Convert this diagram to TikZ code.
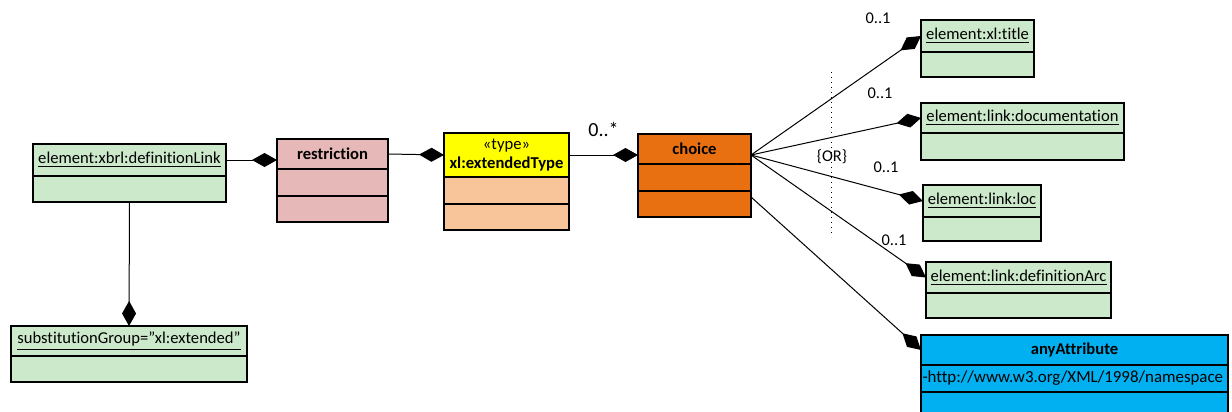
\documentclass[tikz,border=0pt]{standalone}
\usepackage{fontspec}
\setmainfont{Carlito}[Ligatures=NoCommon]
\usepackage{tikz}
\usetikzlibrary{arrows.meta,positioning,calc}
\definecolor{klgruen}{RGB}{205,233,203}
\definecolor{klrosa}{RGB}{230,184,183}
\definecolor{klgelb}{RGB}{255,255,0}
\definecolor{klpfirsich}{RGB}{248,196,154}
\definecolor{klorange}{RGB}{233,112,16}
\definecolor{klblau}{RGB}{0,176,240}
\tikzset{>={Diamond[length=12.5pt,width=7pt]}}
\tikzset{kopf/.style={draw, line width=0.8pt, inner sep=0pt, outer sep=0pt, font=\fontsize{8.3}{9.3}\selectfont},
	fach/.style={kopf, minimum height=13pt},
	mult/.style={font=\fontsize{8.2}{9}\selectfont, inner sep=0pt}}

\begin{document}
\begin{tikzpicture}[x=0.5pt, y=-0.5pt, line width=0.5pt]

	\useasboundingbox (0,0) rectangle (1232,412);

	% linke Seite
	\node[kopf, fill=klgruen, anchor=north west, minimum width=96.5pt, minimum height=16pt] (dl) at (33,144) {\underline{element:xbrl:definitionLink}};
	\node[fach, fill=klgruen, minimum width=96.5pt, below=0pt of dl] (dl1) {};

	\node[kopf, fill=klgruen, anchor=north west, minimum width=118pt, minimum height=15pt] (sg) at (11,326) {\underline{substitutionGroup=\symbol{34}xl:extended\symbol{34}}};
	\node[fach, fill=klgruen, minimum width=118pt, below=0pt of sg] (sg1) {};

	\node[kopf, fill=klrosa, anchor=north west, minimum width=55.5pt, minimum height=15pt] (restr) at (277,139) {\textbf{restriction}};
	\node[fach, fill=klrosa, minimum width=55.5pt, minimum height=13.5pt, below=0pt of restr] (restr1) {};
	\node[fach, fill=klrosa, minimum width=55.5pt, below=0pt of restr1] (restr2) {};

	\node[kopf, fill=klgelb, anchor=north west, minimum width=62.5pt, minimum height=22pt, align=center] (ext) at (444,133) {«type»\\\textbf{xl:extendedType}};
	\node[fach, fill=klpfirsich, minimum width=62.5pt, minimum height=13.5pt, below=0pt of ext] (ext1) {};
	\node[fach, fill=klpfirsich, minimum width=62.5pt, below=0pt of ext1] (ext2) {};

	\node[kopf, fill=klorange, anchor=north west, minimum width=56.5pt, minimum height=15pt] (ch) at (638,134) {\textbf{choice}};
	\node[fach, fill=klorange, minimum width=56.5pt, minimum height=13.5pt, below=0pt of ch] (ch1) {};
	\node[fach, fill=klorange, minimum width=56.5pt, below=0pt of ch1] (ch2) {};

	% rechte Seite
	\node[kopf, fill=klgruen, anchor=north west, minimum width=56.5pt, minimum height=16pt] (ti) at (921,20) {\underline{element:xl:title}};
	\node[fach, fill=klgruen, minimum width=56.5pt, minimum height=12.5pt, below=0pt of ti] (ti1) {};

	\node[kopf, fill=klgruen, anchor=north west, minimum width=101.5pt, minimum height=15pt] (doc) at (921,103) {\underline{element:link:documentation}};
	\node[fach, fill=klgruen, minimum width=101.5pt, minimum height=13.5pt, below=0pt of doc] (doc1) {};

	\node[kopf, fill=klgruen, anchor=north west, minimum width=59pt, minimum height=16pt] (loc) at (923,185) {\underline{element:link:loc}};
	\node[fach, fill=klgruen, minimum width=59pt, minimum height=12pt, below=0pt of loc] (loc1) {};

	\node[kopf, fill=klgruen, anchor=north west, minimum width=92.5pt, minimum height=15.5pt] (arc) at (926,262) {\underline{element:link:definitionArc}};
	\node[fach, fill=klgruen, minimum width=92.5pt, minimum height=12.5pt, below=0pt of arc] (arc1) {};

	\node[kopf, fill=klblau, anchor=north west, minimum width=153.5pt, minimum height=15pt] (any) at (921,335) {\textbf{anyAttribute}};
	\node[fach, fill=klblau, text width=152pt, inner xsep=0.75pt, align=left, minimum height=13.5pt, below=0pt of any, font=\fontsize{8.45}{9.5}\selectfont] (any1) {\mbox{-http://www.w3.org/XML/1998/namespace}};
	\node[fach, fill=klblau, minimum width=153.5pt, minimum height=15pt, below=0pt of any1] (any2) {};

	% Verbindungen
	\draw[->] (dl) -- (dl -| restr.west);
	\draw[->] (restr.east) -- (ext.west);
	\draw[->] (ext.east) -- (ext.east -| ch.west) node[midway, above=9pt, font=\fontsize{10}{11}\selectfont, inner sep=0pt] (m0) {0..*};
	\draw[->] (dl1.south) -- (sg.north);

	\coordinate (cho) at ($(ch.east)+(0,6)$);
	\coordinate (chu) at ($(ch2.north east)+(0,6)$);
	\draw[->] (cho) -- (ti.west);
	\draw[->] (cho) -- (doc.west);
	\draw[->] (cho) -- (loc.west);
	\draw[->] (cho) -- (arc.west);
	\draw[->] (chu) -- (any.west);

	\draw[dotted] (831,72) -- (831,237);

	\node[mult] (m1) at (878,18) {0..1};
	\node[mult] (m2) at (880,93) {0..1};
	\node[mult] (or) at (832,157) {\{OR\}};
	\node[mult] (m3) at (886,167) {0..1};
	\node[mult] (m4) at (894,240) {0..1};
\end{tikzpicture}
\end{document}
